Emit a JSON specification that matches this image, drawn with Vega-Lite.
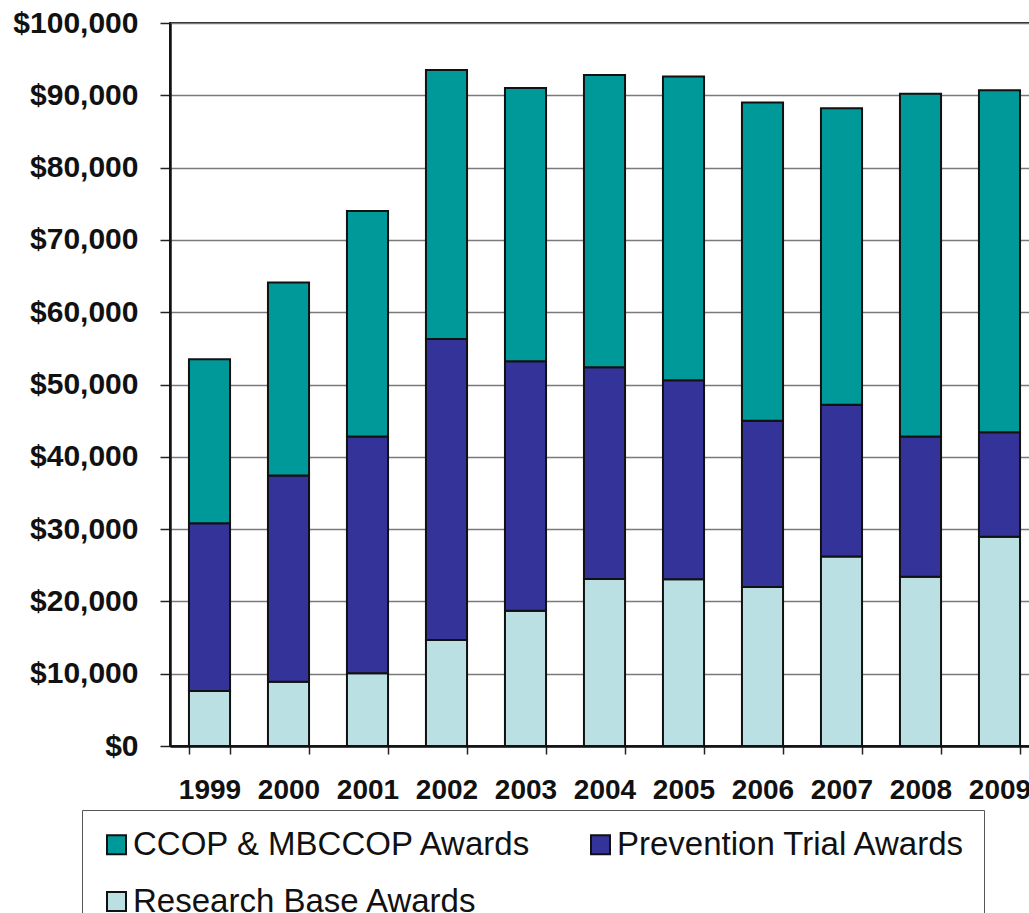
{
  "$schema": "https://vega.github.io/schema/vega-lite/v6.json",
  "autosize": {"type": "none"},
  "padding": {"left": 170, "top": 23, "right": 0, "bottom": 167},
  "width": 869,
  "height": 723,
  "background": "white",
  "config": {
    "font": "Liberation Sans",
    "view": {"stroke": "#222222", "strokeWidth": 2},
    "axis": {"labelFont": "Liberation Sans", "labelColor": "#111111"}
  },
  "data": {
    "values": [
      {"year": "1999", "series": "Research Base Awards", "amount": 7600},
      {"year": "1999", "series": "Prevention Trial Awards", "amount": 23200},
      {"year": "1999", "series": "CCOP & MBCCOP Awards", "amount": 22700},
      {"year": "2000", "series": "Research Base Awards", "amount": 8900},
      {"year": "2000", "series": "Prevention Trial Awards", "amount": 28500},
      {"year": "2000", "series": "CCOP & MBCCOP Awards", "amount": 26700},
      {"year": "2001", "series": "Research Base Awards", "amount": 10050},
      {"year": "2001", "series": "Prevention Trial Awards", "amount": 32750},
      {"year": "2001", "series": "CCOP & MBCCOP Awards", "amount": 31200},
      {"year": "2002", "series": "Research Base Awards", "amount": 14650},
      {"year": "2002", "series": "Prevention Trial Awards", "amount": 41650},
      {"year": "2002", "series": "CCOP & MBCCOP Awards", "amount": 37200},
      {"year": "2003", "series": "Research Base Awards", "amount": 18700},
      {"year": "2003", "series": "Prevention Trial Awards", "amount": 34500},
      {"year": "2003", "series": "CCOP & MBCCOP Awards", "amount": 37800},
      {"year": "2004", "series": "Research Base Awards", "amount": 23100},
      {"year": "2004", "series": "Prevention Trial Awards", "amount": 29300},
      {"year": "2004", "series": "CCOP & MBCCOP Awards", "amount": 40400},
      {"year": "2005", "series": "Research Base Awards", "amount": 23050},
      {"year": "2005", "series": "Prevention Trial Awards", "amount": 27550},
      {"year": "2005", "series": "CCOP & MBCCOP Awards", "amount": 42000},
      {"year": "2006", "series": "Research Base Awards", "amount": 22000},
      {"year": "2006", "series": "Prevention Trial Awards", "amount": 23000},
      {"year": "2006", "series": "CCOP & MBCCOP Awards", "amount": 44000},
      {"year": "2007", "series": "Research Base Awards", "amount": 26200},
      {"year": "2007", "series": "Prevention Trial Awards", "amount": 21000},
      {"year": "2007", "series": "CCOP & MBCCOP Awards", "amount": 41000},
      {"year": "2008", "series": "Research Base Awards", "amount": 23400},
      {"year": "2008", "series": "Prevention Trial Awards", "amount": 19400},
      {"year": "2008", "series": "CCOP & MBCCOP Awards", "amount": 47400},
      {"year": "2009", "series": "Research Base Awards", "amount": 28950},
      {"year": "2009", "series": "Prevention Trial Awards", "amount": 14450},
      {"year": "2009", "series": "CCOP & MBCCOP Awards", "amount": 47300}
    ]
  },
  "mark": {"type": "bar", "stroke": "#111111", "strokeWidth": 2},
  "encoding": {
    "x": {
      "field": "year",
      "type": "ordinal",
      "scale": {"paddingInner": 0.48, "paddingOuter": 0.24},
      "axis": {
        "title": null,
        "labelAngle": 0,
        "labelFontSize": 28,
        "labelFontWeight": "bold",
        "labelPadding": 22,
        "tickBand": "extent",
        "tickSize": 8,
        "tickColor": "#222222",
        "tickWidth": 1.5,
        "domainColor": "#111111",
        "domainWidth": 2.5,
        "grid": false
      }
    },
    "y": {
      "field": "amount",
      "type": "quantitative",
      "aggregate": "sum",
      "stack": "zero",
      "scale": {"domain": [0, 100000], "nice": false},
      "axis": {
        "title": null,
        "values": [0, 10000, 20000, 30000, 40000, 50000, 60000, 70000, 80000, 90000, 100000],
        "format": "$,.0f",
        "labelFontSize": 30,
        "labelFontWeight": "bold",
        "labelPadding": 22,
        "tickSize": 10,
        "tickColor": "#222222",
        "tickWidth": 1.5,
        "domainColor": "#111111",
        "domainWidth": 2.5,
        "grid": true,
        "gridColor": "#7a7a7a",
        "gridWidth": 1.5
      }
    },
    "color": {
      "field": "series",
      "type": "nominal",
      "scale": {
        "domain": ["CCOP & MBCCOP Awards", "Prevention Trial Awards", "Research Base Awards"],
        "range": ["#009999", "#333399", "#BBE0E3"]
      },
      "legend": {
        "title": null,
        "orient": "none",
        "legendX": -88,
        "legendY": 787,
        "direction": "horizontal",
        "columns": 2,
        "gridAlign": "all",
        "columnPadding": 51,
        "rowPadding": 23,
        "padding": 18,
        "strokeColor": "#555555",
        "symbolType": "square",
        "symbolSize": 361,
        "symbolStrokeColor": "#111111",
        "symbolStrokeWidth": 2,
        "symbolOpacity": 1,
        "labelFont": "Liberation Sans",
        "labelFontSize": 33,
        "labelColor": "#111111",
        "labelOffset": 0,
        "labelLimit": 600
      }
    },
    "order": {"field": "series", "sort": "descending"}
  }
}
